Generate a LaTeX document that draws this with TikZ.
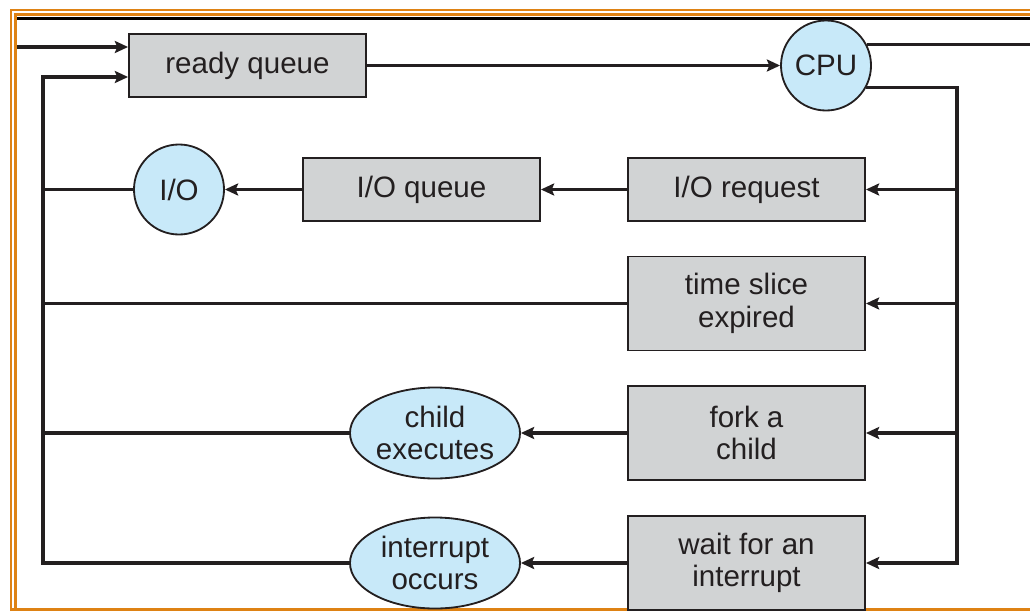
\documentclass[tikz,border=0pt]{standalone}
\usepackage{fontspec}
\setmainfont{Liberation Sans}
\usepackage{tikz}
\usetikzlibrary{shapes.geometric, arrows.meta}
\definecolor{ink}{RGB}{35, 31, 32}
\definecolor{qgray}{RGB}{209, 211, 212}
\definecolor{pblue}{RGB}{200, 233, 249}
\definecolor{frameorange}{RGB}{222, 130, 20}
\tikzstyle{arrow} = [line width=2.2pt, ink, -{Stealth[length=0.33cm, width=0.3cm, inset=0.06cm]}]
\tikzstyle{link} = [line width=2.2pt, ink]

\begin{document}
\begin{tikzpicture}[x=0.025cm, y=-0.025cm,
		queue/.style={draw=ink, fill=qgray, line width=1.3pt, align=center,
			text=ink, font=\fontsize{21}{23}\selectfont, inner sep=0pt,
			minimum width=5.925cm, minimum height=1.575cm},
		tqueue/.style={queue, minimum height=2.35cm},
		res/.style={circle, draw=ink, fill=pblue, line width=1.3pt, text=ink,
			font=\fontsize{21}{23}\selectfont, inner sep=0pt, minimum size=2.25cm},
		event/.style={ellipse, draw=ink, fill=pblue, line width=1.3pt, align=center,
			text=ink, font=\fontsize{21}{23}\selectfont, inner sep=0pt,
			minimum width=4.25cm, minimum height=2.275cm}]
	\useasboundingbox (0,0) rectangle (1030,611);
	
	%% -- frame --
	\draw[frameorange, line width=2pt] (11,611) -- (11,10) -- (1030,10);
	\draw[frameorange, line width=2pt] (15.5,609) -- (15.5,14.5) -- (1030,14.5);
	\draw[frameorange, line width=2pt] (11,609.5) -- (1030,609.5);
	\draw[black, line width=2.2pt] (17,18.5) -- (1030,18.5);
	
	%% -- queues and resources --
	\node[queue] (ready) at (247.5,65.5) {ready queue};
	\node[res] (cpu) at (826,65.5) {CPU};
	\node[res] (io) at (179,189.5) {I/O};
	\node[queue] (ioq) at (421.5,189.5) {I/O queue};
	\node[queue] (ioreq) at (746.5,189.5) {I/O request};
	\node[tqueue] (slice) at (746.5,303.5) {time slice\\expired};
	\node[tqueue] (fork) at (746.5,433) {fork a\\child};
	\node[tqueue] (wait) at (746.5,563) {wait for an\\interrupt};
	\node[event] (child) at (435,433) {child\\executes};
	\node[event] (intr) at (435,563) {interrupt\\occurs};
	
	%% -- bus points --
	\coordinate (in) at (17,47);
	\coordinate (out) at (1030,46.5);
	\coordinate (bus) at (957,89);
	\coordinate (back) at (43,77);
	
	%% -- connectors --
	\draw[arrow] (in) -- (in -| ready.west);
	\draw[arrow] (ready.east) -- (cpu.west);
	\draw[link] (cpu.27) -- (cpu.27 -| out);
	\draw[arrow] (cpu.-29) -- (cpu.-29 -| bus) |- (wait.east);
	\foreach \q in {ioreq, slice, fork}
		\draw[arrow] (bus |- \q.east) -- (\q.east);
	
	\draw[arrow] (ioreq.west) -- (ioq.east);
	\draw[arrow] (ioq.west) -- (io.east);
	\draw[arrow] (fork.west) -- (child.east);
	\draw[arrow] (wait.west) -- (intr.east);
	
	%% -- return to the ready queue --
	\draw[arrow] (intr.west) -| (back) -- (back -| ready.west);
	\draw[link] (io.west) -- (io.west -| back);
	\draw[link] (slice.west) -- (slice.west -| back);
	\draw[link] (child.west) -- (child.west -| back);
	
\end{tikzpicture}
\end{document}
